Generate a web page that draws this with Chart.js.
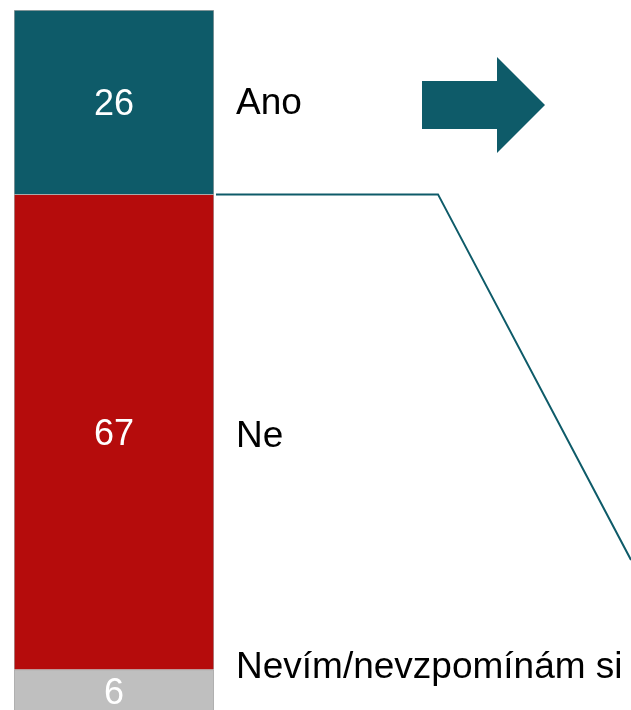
<!DOCTYPE html>
<html>
<head>
<meta charset="utf-8">
<script src="https://cdn.jsdelivr.net/npm/chart.js@4/dist/chart.umd.min.js"></script>
<style>
  html, body { margin: 0; padding: 0; background: #fff; }
  canvas { display: block; }
</style>
</head>
<body>
<canvas id="chart" width="631" height="710"></canvas>
<script>
// stacked from the bottom up
const categories = ['Nevím/nevzpomínám si', 'Ne', 'Ano'];
const values = [6, 67, 26];
const colors = ['#bfbfbf', '#b50c0c', '#0e5b69'];
const labelShift = [-23, 5, 2];

const FONT = '"Liberation Sans", Arial, sans-serif';
const TEAL = '#0e5b69';

const barLabels = {
  id: 'barLabels',
  afterDraw(chart) {
    const ctx = chart.ctx;
    ctx.save();
    chart.data.datasets.forEach((ds, i) => {
      const bar = chart.getDatasetMeta(i).data[0];
      const top = bar.y;
      const bottom = Math.min(bar.base, chart.chartArea.bottom + 2);
      const mid = (top + bottom) / 2;

      // value inside the segment
      ctx.fillStyle = '#fff';
      ctx.font = '36px ' + FONT;
      ctx.textAlign = 'center';
      ctx.textBaseline = 'middle';
      ctx.fillText(ds.data[0], bar.x, (bar.y + bar.base) / 2 + 3);

      // category name on the right
      ctx.fillStyle = '#000';
      ctx.font = '37px ' + FONT;
      ctx.textAlign = 'left';
      ctx.fillText(ds.label, bar.x + bar.width / 2 + 22, mid + labelShift[i]);
    });

    // connector line from the top of "Ne"
    const yScale = chart.scales.y;
    const bar = chart.getDatasetMeta(1).data[0];
    const y0 = yScale.getPixelForValue(values[0] + values[1]);
    ctx.strokeStyle = TEAL;
    ctx.lineWidth = 2;
    ctx.beginPath();
    ctx.moveTo(bar.x + bar.width / 2 + 2, y0);
    ctx.lineTo(438, y0);
    ctx.lineTo(631, 560);
    ctx.stroke();

    // arrow
    ctx.fillStyle = TEAL;
    ctx.beginPath();
    ctx.moveTo(422, 81);
    ctx.lineTo(497, 81);
    ctx.lineTo(497, 57);
    ctx.lineTo(545, 105);
    ctx.lineTo(497, 153);
    ctx.lineTo(497, 129);
    ctx.lineTo(422, 129);
    ctx.closePath();
    ctx.fill();
    ctx.restore();
  }
};

new Chart(document.getElementById('chart'), {
  type: 'bar',
  data: {
    labels: [''],
    datasets: categories.map((c, i) => ({
      label: c,
      data: [values[i]],
      backgroundColor: colors[i],
      borderColor: '#a9a9a9',
      borderWidth: 1,
      barPercentage: 1,
      categoryPercentage: 1
    }))
  },
  options: {
    responsive: false,
    animation: false,
    layout: { padding: { left: 14, right: 417, top: 10, bottom: 0 } },
    plugins: { legend: { display: false }, tooltip: { enabled: false } },
    scales: {
      x: { stacked: true, display: false },
      y: { stacked: true, display: false, min: 0.3, max: 99 }
    }
  },
  plugins: [barLabels]
});
</script>
</body>
</html>
